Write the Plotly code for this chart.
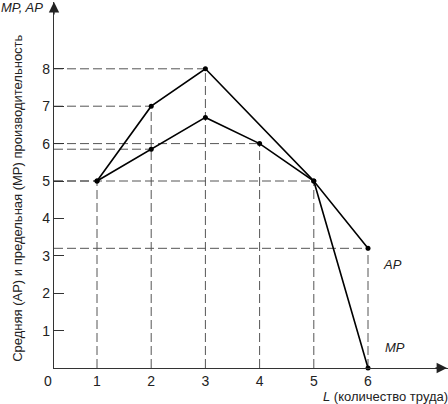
import plotly.graph_objects as go

# Data
L = [1, 2, 3, 4, 5, 6]
MP_x = [1, 2, 3, 5, 6]
MP = [5, 7, 8, 5, 0]
AP_x = [1, 2, 3, 4, 5, 6]
AP = [5, 5.85, 6.7, 6, 5, 3.2]

# guide lines: horizontal (x end, y) and vertical (x, y top)
h_guides_x = [1, 2, 3, 2, 4, 5, 6]
h_guides_y = [5, 7, 8, 5.85, 6, 5, 3.2]
v_guides_x = [1, 2, 3, 4, 5, 6]
v_guides_y = [5, 7, 8, 6, 5, 3.2]

y_ticks = [1, 2, 3, 4, 5, 6, 7, 8]
x_ticks = [1, 2, 3, 4, 5, 6]

X0, X1 = 0.2066, 7.476
Y0, Y1 = 0.0, 9.786

FONT = "Liberation Sans, Arial, sans-serif"
DASH = "9px,4px"
GCOL = "#555555"
TCOL = "#222222"

fig = go.Figure()

# dashed guides
gx, gy = [], []
for xe, yv in zip(h_guides_x, h_guides_y):
    gx += [X0, xe, None]
    gy += [yv, yv, None]
for xv, yt in zip(v_guides_x, v_guides_y):
    gx += [xv, xv, None]
    gy += [0, yt, None]
fig.add_trace(go.Scatter(x=gx, y=gy, mode="lines",
                         line=dict(color=GCOL, width=1, dash=DASH),
                         hoverinfo="skip", showlegend=False))

fig.add_trace(go.Scatter(x=MP_x, y=MP, mode="lines+markers",
                         line=dict(color="black", width=1.6),
                         marker=dict(color="black", size=5),
                         showlegend=False, cliponaxis=False))
fig.add_trace(go.Scatter(x=AP_x, y=AP, mode="lines+markers",
                         line=dict(color="black", width=1.6),
                         marker=dict(color="black", size=5),
                         showlegend=False, cliponaxis=False))

annotations = [
    # axis arrowheads
    dict(x=1, y=Y0, xref="paper", yref="y", ax=-14, ay=0,
         text="", showarrow=True, arrowhead=2, arrowsize=1.6, arrowwidth=1.3, arrowcolor=TCOL),
    dict(x=X0, y=1, xref="x", yref="paper", ax=0, ay=14,
         text="", showarrow=True, arrowhead=2, arrowsize=1.6, arrowwidth=1.3, arrowcolor=TCOL),
    dict(x=-0.0305, y=0, xref="paper", yref="paper", text="0", showarrow=False,
         yanchor="top", yshift=-3, font=dict(family=FONT, size=14, color=TCOL)),
    dict(x=-0.139, y=0.986, xref="paper", yref="paper", text="<i>MP, AP</i>", showarrow=False,
         xanchor="left", yanchor="middle", font=dict(family=FONT, size=13, color=TCOL)),
    dict(x=6.24, y=2.78, xref="x", yref="y", text="<i>AP</i>", showarrow=False,
         xanchor="left", yanchor="middle", font=dict(family=FONT, size=13, color=TCOL)),
    dict(x=6.28, y=0.56, xref="x", yref="y", text="<i>MP</i>", showarrow=False,
         xanchor="left", yanchor="middle", font=dict(family=FONT, size=13, color=TCOL)),
    dict(x=5.13, y=-0.077, xref="x", yref="paper", text="<i>L</i> (количество труда)", showarrow=False,
         xanchor="left", yanchor="middle", font=dict(family=FONT, size=13, color=TCOL)),
    dict(x=-0.0914, y=4.55, xref="paper", yref="y", xanchor="center", yanchor="middle",
         text="Средняя (AP) и предельная (MP) производительность", showarrow=False,
         textangle=-90, font=dict(family=FONT, size=13, color=TCOL)),
]

fig.update_layout(
    width=448, height=404,
    margin=dict(l=54, r=0, t=2, b=36),
    paper_bgcolor="white", plot_bgcolor="white",
    showlegend=False,
    annotations=annotations,
    xaxis=dict(range=[X0, X1], tickvals=x_ticks, ticktext=[str(v) for v in x_ticks],
               showgrid=False, zeroline=False, showline=True, linecolor="#333", linewidth=1.3,
               ticks="", tickfont=dict(family=FONT, size=14, color=TCOL)),
    yaxis=dict(range=[Y0, Y1], tickvals=y_ticks, ticktext=[str(v) for v in y_ticks],
               showgrid=False, zeroline=False, showline=True, linecolor="#333", linewidth=1.3,
               ticks="inside", ticklen=10, tickcolor="#333", tickwidth=1,
               tickfont=dict(family=FONT, size=14, color=TCOL)),
)

fig.write_html("out.html", config={"displayModeBar": False},
               post_script="document.body.style.margin='0';document.body.style.overflow='hidden';")
